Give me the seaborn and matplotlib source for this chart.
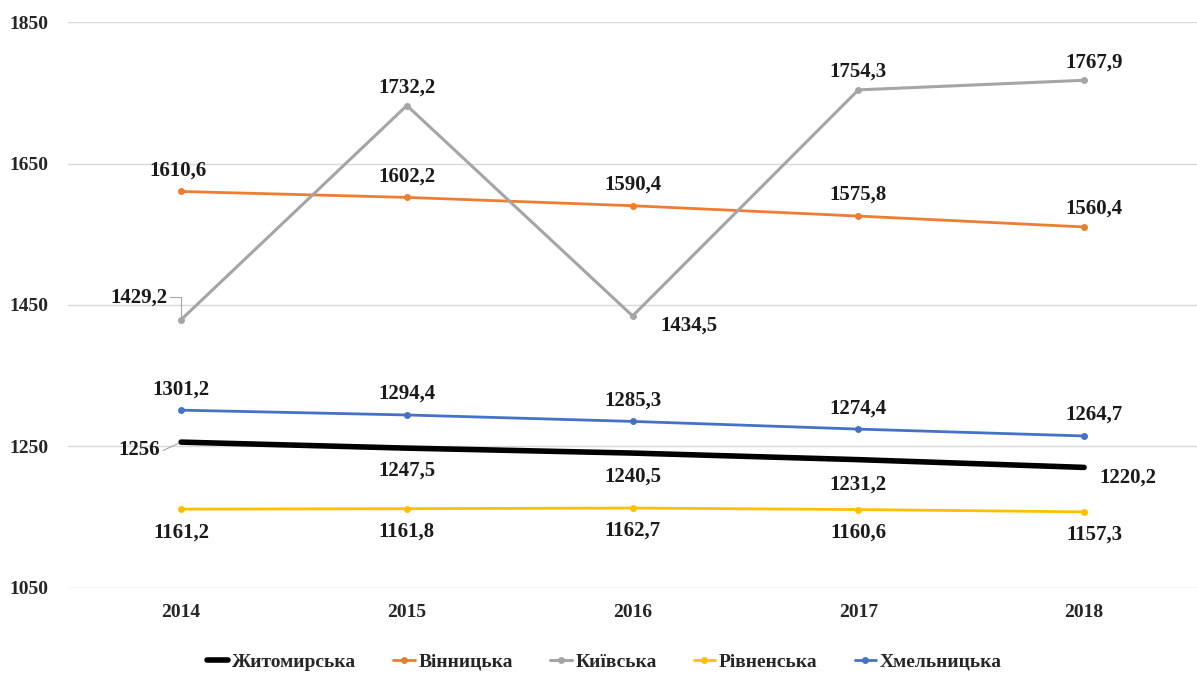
import numpy as np
import pandas as pd
import seaborn as sns
import matplotlib.pyplot as plt
from matplotlib.lines import Line2D

# data
years = [2014, 2015, 2016, 2017, 2018]
series_names = ['Житомирська', 'Вінницька', 'Київська', 'Рівненська', 'Хмельницька']
zhytomyr = [1256.0, 1247.5, 1240.5, 1231.2, 1220.2]
vinnytsia = [1610.6, 1602.2, 1590.4, 1575.8, 1560.4]
kyiv = [1429.2, 1732.2, 1434.5, 1754.3, 1767.9]
rivne = [1161.2, 1161.8, 1162.7, 1160.6, 1157.3]
khmelnytskyi = [1301.2, 1294.4, 1285.3, 1274.4, 1264.7]

colors = ['#000000', '#ED7D31', '#A5A5A5', '#FFC000', '#4472C4']
widths = [4.0, 2.0, 2.2, 2.0, 2.0]

# label offsets in pixels (dx, dy), dy up positive
offsets = {
    'Житомирська': [(-42, -8), (0, -22), (0, -24), (0, -25), (44, -10)],
    'Вінницька': [(-3, 21), (0, 21), (0, 21), (0, 21), (10, 18)],
    'Київська': [(-42, 22), (0, 18), (56, -10), (0, 18), (10, 18)],
    'Рівненська': [(0, -23), (0, -23), (0, -23), (0, -23), (10, -23)],
    'Хмельницька': [(0, 21), (0, 21), (0, 21), (0, 21), (10, 21)],
}

sns.set_style('white')
plt.rcParams['font.family'] = ['Liberation Serif', 'DejaVu Serif']
plt.rcParams['font.weight'] = 'bold'

df = pd.DataFrame({
    'year': years * 5,
    'value': zhytomyr + vinnytsia + kyiv + rivne + khmelnytskyi,
    'region': [n for n in series_names for _ in years],
})

fig = plt.figure(figsize=(11.97, 6.74), dpi=100)
ax = fig.add_axes([0.057, 0.128, 0.943, 0.839])

for name, c, w in zip(series_names, colors, widths):
    sub = df[df['region'] == name]
    sns.lineplot(data=sub, x='year', y='value', ax=ax, color=c, lw=w,
                 marker=None if name == 'Житомирська' else 'o', markersize=5,
                 markeredgewidth=0, legend=False, zorder=3)
    for (x, y), (dx, dy) in zip(zip(sub['year'], sub['value']), offsets[name]):
        txt = f'{y:.1f}'.replace('.', ',') if y != int(y) else f'{int(y)}'
        ax.annotate(txt, (x, y), xytext=(dx * 0.72, dy * 0.72), textcoords='offset points',
                    ha='center', va='center', fontsize=15, fontweight='bold', color='#1a1a1a')

# leader lines for the two labels on the left
ax.annotate('', (2014, 1429.2), xytext=(-8, 16), textcoords='offset points',
            arrowprops=dict(arrowstyle='-', color='#A5A5A5', lw=0.8, shrinkA=0, shrinkB=2,
                            connectionstyle='angle,angleA=0,angleB=90,rad=0'))
ax.annotate('', (2014, 1256), xytext=(-13, -6), textcoords='offset points',
            arrowprops=dict(arrowstyle='-', color='#A5A5A5', lw=0.8, shrinkA=0, shrinkB=2))

ax.set_xlim(2013.5, 2018.5)
ax.set_ylim(1050, 1850)
ax.set_yticks([1050, 1250, 1450, 1650, 1850])
ax.set_xticks(years)
ax.set_xlabel('')
ax.set_ylabel('')
ax.grid(axis='y', color='#D9D9D9', lw=1)
ax.grid(axis='x', visible=False)
sns.despine(ax=ax, left=True, bottom=True)
ax.tick_params(axis='both', length=0, labelsize=14)
ax.tick_params(axis='y', pad=14)
ax.tick_params(axis='x', pad=12)
for lab in ax.get_xticklabels() + ax.get_yticklabels():
    lab.set_fontweight('bold')

handles = [Line2D([], [], color=c, lw=w, marker=None if i == 0 else 'o', markersize=5,
                  markeredgewidth=0)
           for i, (c, w) in enumerate(zip(colors, widths))]
fig.legend(handles, series_names, loc='center', bbox_to_anchor=(0.505, 0.018), ncol=5,
           frameon=False, prop={'size': 14, 'weight': 'bold'}, handlelength=1.1,
           handletextpad=0.2, columnspacing=1.9)

fig.savefig('out.png', dpi=100)
